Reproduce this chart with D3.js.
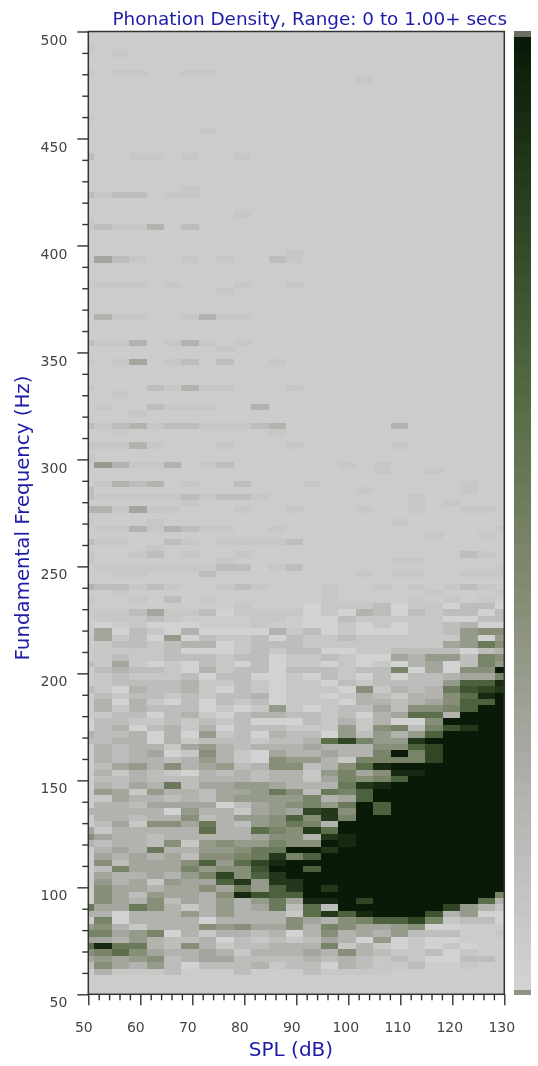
<!DOCTYPE html>
<html>
<head>
<meta charset="utf-8">
<script src="https://cdn.jsdelivr.net/npm/d3@7"></script>
<style>
  html, body { margin: 0; padding: 0; background: #fff; }
  svg { display: block; filter: blur(0.5px); }
  text { font-family: "DejaVu Sans", sans-serif; }
</style>
</head>
<body>
<script>
const titleText = "Phonation Density, Range: 0 to 1.00+ secs";
const xLabel = "SPL (dB)";
const yLabel = "Fundamental Frequency (Hz)";
const xMajorTicks = [50, 60, 70, 80, 90, 100, 110, 120, 130];
const yMajorTicks = [50, 100, 150, 200, 250, 300, 350, 400, 450, 500];

// colour bar stops (seconds -> colour)
const colorDomain = [0, 0.2, 0.41, 0.62, 0.83, 1];
const colorRange = ["#d2d2d2", "#b2b2af", "#858d75", "#566b45", "#2a4020", "#0a1a08"];

// density per cell, one string per 3 Hz row, 500 Hz at the top.
// '.' = no phonation, otherwise hex digit = fifteenths of the 1 sec range
const densityRows = [
"..... ..... ..... ..... .....",
"..... ..... ..... ..... .....",
"1.... ..... ..... ..... .....",
"..1.. ..... ..... ..... .....",
"..... ..... ..... ..... .....",
"..... ..... ..... ..... .....",
"1.11. .11.. ..... ..... .....",
"..... ..... ..... .1... .....",
"..... ..... ..... ..... .....",
"..... ..... ..... ..... .....",
"..... ..... ..... ..... .....",
"..... ..... ..... ..... .....",
"..... ..... ..... ..... .....",
"1.... ..... ..... ..... .....",
"..... ..... ..... ..... .....",
"..... ..1.. ..... ..... .....",
"..... ..... ..... ..... .....",
"..... ..... ..... ..... .....",
"..... ..... ..... ..... .....",
"2..11 .1..1 ..... ..... .....",
"..... ..... ..... ..... .....",
"..... ..... ..... ..... .....",
"..... ..... ..... ..... .....",
"..... ..... ..... ..... .....",
"..... .1... ..... ..... .....",
"2122. 11... ..... ..... .....",
"..... ..... ..... ..... .....",
"..... ..... ..... ..... .....",
"..... ....1 ..... ..... .....",
"1.... ..... ..... ..... .....",
"12113 .2... ..... ..... .....",
"..... ..... ..... ..... .....",
"..... ..... ..... ..... .....",
"..... ..... ..... ..... .....",
"..... ..... ..1.. ..... .....",
".421. .1.1. .21.. ..... .....",
"..... ..... ..... ..... .....",
"..... ..... ..... ..... .....",
"..... ..... ..... ..... .....",
".111. 1...1 ..1.. ..... .....",
"..... ...1. ..... ..... .....",
"..... ..... ..... ..... .....",
"..... ..... ..... ..... .....",
"..... ..... ..... ..... .....",
".311. .1311 ..... ..... .....",
"..... ..... ..... ..... .....",
"..... ..... ..... ..... .....",
"..... ..... ..... ..... .....",
"2113. 131.1 ..... ..... .....",
"..... ...1. ..... ..... .....",
"..... ..... ..... ..... .....",
"1.14. 12.2. .1... ..... .....",
"..... ..... ..... ..... .....",
"..... ..... ..... ..... .....",
"..... ..... ..... ..... .....",
"1...2 1311. ..1.. ..... .....",
"..1.. ..... ..... ..... .....",
"..... ..... ..... ..... .....",
".1..2 111.. 3.... ..... .....",
"...1. ..... ..... ..... .....",
"..... ..... ..... ..... .....",
"21231 22111 23... ...3. .....",
"..1.. ..... .1... ..... .....",
"..... ..... ..... ..... .....",
"11131 ...1. ..1.. ...1. .....",
"..... ..... ..... ..... .....",
"1.... ..... ..... ..... .....",
".5311 3.12. ..... 1.1.. .....",
"..... ..... ..... ..1.. 1....",
"..... ..... ..... ..... .....",
".1323 .1..2 ...1. ..... ..1..",
"2.... ..... ..... .1... ..1..",
"21111 12122 1.... ....1 .....",
"..... .1... ..... ....1 .1...",
"33141 1...1 ..1.. .1..1 ..11.",
"..... ..... ..... ..... .....",
"1...1 ..... ..... ...1. .....",
".1131 3211. .1... ..... ....1",
"..... ..... ..... ..... 1..1.",
"211.. 21.11 112.. ..... .....",
"....1 ..... ..... ..... .....",
"1..12 .1..1 ..... ..... ..21.",
"1.... ...1. ..... ...11 .....",
".1111 11122 .12.. ..... ....1",
"..11. ..2.. ..... .1.11 ..111",
"..... ..... ..... ..... .....",
"32212 1..12 1...1 ..1.1 .121.",
"..1.. ..... ....1 ..... 1...1",
"1..1. 2.1.. ....1 ....1 .1.1.",
"..... ....1 ...01 11201 10220",
".1124 11201 11101 03202 12202",
".1112 1.... 11.00 21111 10022",
".0.10 00... 1..00 10101 12300",
".4021 03000 03120 10001 12566",
"14120 50211 20211 21111 11505",
".1221 23301 22211 11111 14586",
".1111 20001 21220 01122 22023",
".1211 22212 20112 10043 55276",
"21410 10210 20110 10103 40275",
".2322 10312 20222 12270 4066f",
".1211 12022 00102 10202 23447",
".1222 23112 10110 21222 25aae",
"21032 23102 10111 06132 38bcd",
".2122 12122 30110 13213 369ef",
".3031 02021 20111 03323 46aaf",
".3132 22010 15101 22426 67aff",
".1220 23102 33221 20349 93fff",
"02211 21212 00021 31300 6ffff",
"02302 31302 22111 51672 7bdff",
"32230 30512 03220 52535 affff",
"22330 31222 12239 c755d fffff",
".3233 14532 33343 3366a cffff",
".3234 01631 04334 337f7 cffff",
".3233 23531 06553 17777 cffff",
".2453 63452 36623 69eff fffff",
".3132 10323 23315 746ee fffff",
".2232 22333 23314 767af fffff",
".3243 82445 54333 8deff fffff",
".5415 33244 58628 7afff fffff",
".1433 23245 55573 4afff fffff",
".3324 44402 45675 8fafF fffff",
"33333 05331 454cd 6fafF fffff",
".3323 36235 56a6d 7ffff fffff",
".2416 64832 56873 fffff fffff",
"41333 33933 976d9 fffff fffff",
"64332 33333 4663d efffF fffff",
"32332 61565 5766f efffF fffff",
".3438 33556 88ffd fffff fffff",
".4343 42667 8d7af fffff fffff",
".6244 46a59 cefff fffff fffff",
".2744 47566 bffaf fffff fffff",
".4334 357c6 adfff fffff fffff",
".5341 544ad 5ddff fffff fffff",
".6443 44648 5adfd fffff fffff",
".6425 4436e baaff fffff ffff7",
".6436 24353 584ee fcfff fff93",
"84486 31353 48292 fffff fc531",
"33033 35353 3319d aefff b3500",
".7033 33033 33643 67aac 71220",
"56313 33656 44637 64456 00...",
"77457 03133 23036 34352 22..1",
"44353 22302 12124 30501 00...",
"9e883 26312 23337 13101 010..",
"67964 33431 33343 63211 201..",
"45456 23442 22232 32121 0022.",
"26435 20222 31220 32112 ..1..",
".3111 2...2 ...21 111.. .....",
"..... ..... ..... ..... .....",
"..... ..... ..... ..... .....",
"..... ..... ..... ..... ....."
];

const width = 538, height = 1066;
const margin = {top: 31.5, right: 504.3, bottom: 994.3, left: 88.3};
const splBinStart = 51.154, splBinWidth = 3.352, freqBinWidth = 3;

var svg = d3.select("body").append("svg")
    .attr("width", width)
    .attr("height", height);

var x = d3.scaleLinear().domain([50, 130]).range([margin.left, margin.right]);
var y = d3.scaleLinear().domain([50, 500]).range([margin.bottom, margin.top]);
var color = d3.scaleLinear().domain(colorDomain).range(colorRange);

// plot background
svg.append("rect")
   .attr("x", x(50)).attr("y", y(500))
   .attr("width", x(130) - x(50)).attr("height", y(50) - y(500))
   .attr("fill", "#cccccc");

// flatten rows into cells
var cells = [];
densityRows.forEach(function(row, i) {
    row.replace(/ /g, "").slice(0, 25).split("").forEach(function(ch, k) {
        if (ch === ".") return;
        var f0 = 500 - (i + 1) * freqBinWidth;
        cells.push({
            spl0: k === 0 ? 50 : splBinStart + (k - 1) * splBinWidth,
            spl1: Math.min(130, splBinStart + k * splBinWidth),
            f0: f0,
            f1: f0 + freqBinWidth,
            secs: parseInt(ch, 16) / 15
        });
    });
});

svg.append("g")
   .attr("class", "cells")
   .attr("shape-rendering", "crispEdges")
   .selectAll("rect")
   .data(cells)
   .enter().append("rect")
   .attr("x", function(d) { return x(d.spl0); })
   .attr("y", function(d) { return y(d.f1); })
   .attr("width", function(d) { return x(d.spl1) - x(d.spl0); })
   .attr("height", function(d) { return y(d.f0) - y(d.f1); })
   .attr("fill", function(d) { return color(d.secs); });

// colour bar
var legendSteps = d3.range(0, 64);
var legendY = d3.scaleLinear().domain([0, 64]).range([989.5, 37]);
var legend = svg.append("g").attr("shape-rendering", "crispEdges");
legend.selectAll("rect")
   .data(legendSteps)
   .enter().append("rect")
   .attr("x", 514.3).attr("width", 17)
   .attr("y", function(d) { return legendY(d + 1); })
   .attr("height", function(d) { return legendY(d) - legendY(d + 1) + 0.5; })
   .attr("fill", function(d) { return color(d / 63); });
legend.append("rect").attr("x", 514.3).attr("width", 17).attr("y", 31).attr("height", 6)
   .attr("fill", "#6a6f62");
legend.append("rect").attr("x", 514.3).attr("width", 17).attr("y", 989.5).attr("height", 5.5)
   .attr("fill", "#8f9584");

// frame
svg.append("rect")
   .attr("x", x(50)).attr("y", y(500))
   .attr("width", x(130) - x(50)).attr("height", y(50) - y(500))
   .attr("fill", "none")
   .attr("stroke", "#333")
   .attr("stroke-width", 1.5);

// axes: majors carry labels, minors are short ticks only
var xMinor = d3.range(50, 131, 2).filter(function(d) { return d % 10 !== 0; });
var yMinor = d3.range(50, 501, 10).filter(function(d) { return d % 50 !== 0; });

svg.append("g")
   .attr("transform", "translate(0," + margin.bottom + ")")
   .call(d3.axisBottom(x).tickValues(xMinor).tickSize(6).tickFormat(""))
   .call(cleanAxis);
var xAxis = svg.append("g")
   .attr("transform", "translate(0," + margin.bottom + ")")
   .call(d3.axisBottom(x).tickValues(xMajorTicks).tickSize(11).tickPadding(0))
   .call(cleanAxis);
xAxis.selectAll("text")
   .attr("y", 38)
   .attr("dy", 0)
   .attr("dx", function(d) { return d >= 100 ? -3 : -5; });

svg.append("g")
   .attr("transform", "translate(" + margin.left + ",0)")
   .call(d3.axisLeft(y).tickValues(yMinor).tickSize(6).tickFormat(""))
   .call(cleanAxis);
var yAxis = svg.append("g")
   .attr("transform", "translate(" + margin.left + ",0)")
   .call(d3.axisLeft(y).tickValues(yMajorTicks).tickSize(11).tickPadding(10))
   .call(cleanAxis);
yAxis.selectAll("text").attr("dy", "0.9em");

function cleanAxis(g) {
    g.select(".domain").remove();
    g.selectAll("line").attr("stroke", "#333").attr("stroke-width", 1.4);
    g.selectAll("text")
     .attr("fill", "#444")
     .style("font-family", '"DejaVu Sans", sans-serif')
     .style("font-size", "14px");
}

// titles
svg.append("text")
   .attr("x", 507).attr("y", 25)
   .attr("text-anchor", "end")
   .attr("fill", "#1c1ca8")
   .style("font-size", "18.4px")
   .text(titleText);

svg.append("text")
   .attr("x", 291).attr("y", 1056)
   .attr("text-anchor", "middle")
   .attr("fill", "#1c1ca8")
   .style("font-size", "20px")
   .text(xLabel);

svg.append("text")
   .attr("transform", "translate(29,518) rotate(-90)")
   .attr("text-anchor", "middle")
   .attr("fill", "#1c1ca8")
   .style("font-size", "19.8px")
   .text(yLabel);
</script>
</body>
</html>
